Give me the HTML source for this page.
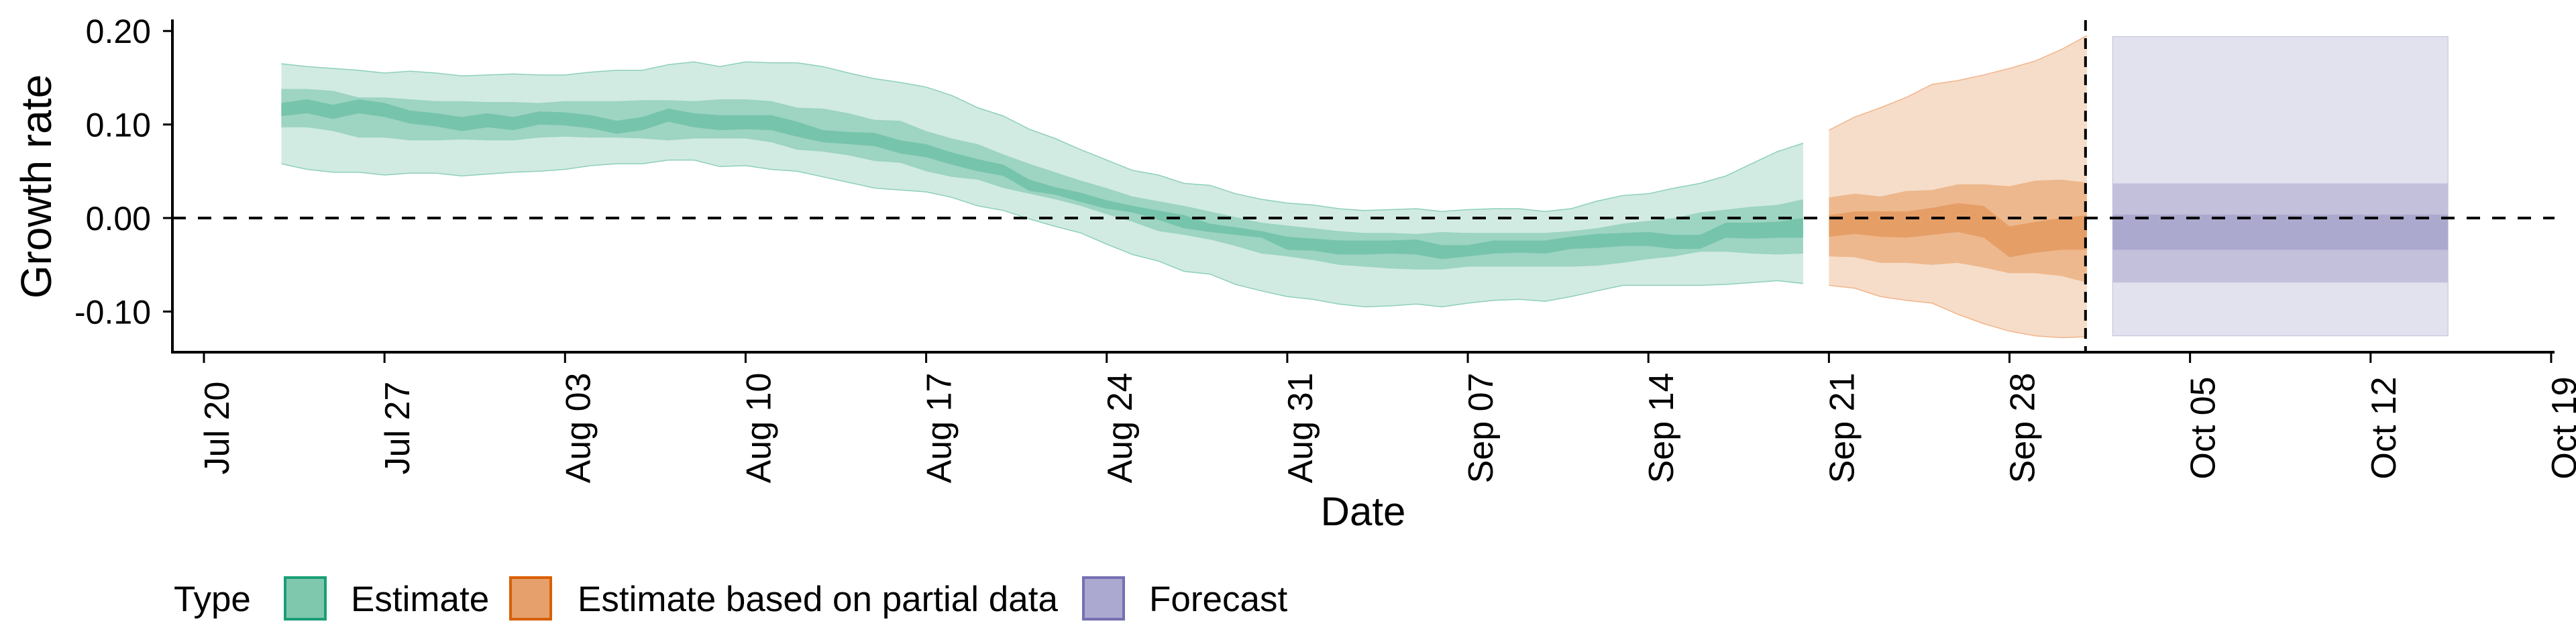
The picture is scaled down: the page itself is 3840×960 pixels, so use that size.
<!DOCTYPE html>
<html><head><meta charset="utf-8">
<style>
html,body{margin:0;padding:0;background:#fff;}
svg{display:block;font-family:"Liberation Sans",Arial,sans-serif;}
</style></head>
<body>
<svg id="chart" width="3840" height="960" viewBox="0 0 3840 960" xmlns="http://www.w3.org/2000/svg">
  <rect x="0" y="0" width="3840" height="960" fill="#fff"/>
  <g id="bands"></g>
  <g id="axes"></g>
  <g id="legend">
    <text x="259" y="911" font-size="53">Type</text>
    <rect x="425" y="861" width="60" height="62" fill="#7FC8AE" stroke="#1B9E77" stroke-width="4"/>
    <text x="523" y="911" font-size="53">Estimate</text>
    <rect x="761" y="861" width="60" height="62" fill="#E6A06B" stroke="#D95F02" stroke-width="4"/>
    <text x="861" y="911" font-size="53">Estimate based on partial data</text>
    <rect x="1615" y="861" width="60" height="62" fill="#ABA9CF" stroke="#7570B3" stroke-width="4"/>
    <text x="1713" y="911" font-size="53">Forecast</text>
  </g>
</svg>
<script>
// ---- data (days offset from Jul 20) ----
const estStart = 3;
const estOuterHi = [.165,.162,.160,.158,.155,.157,.155,.152,.153,.154,.153,.153,.156,.158,.158,.164,.167,.162,
 .167,.166,.166,.162,.155,.149,.145,.140,.131,.118,.109,.095,.085,.073,.062,.051,.046,.037,.035,.026,
 .020,.016,.014,.010,.008,.009,.010,.007,.009,.010,.010,.007,.010,.018,.024,.026,.032,.037,.045,.058,.071,.080];
const estOuterLo = [.058,.052,.049,.049,.046,.048,.048,.045,.047,.049,.050,.052,.056,.058,.058,.062,.062,.055,
 .056,.052,.050,.044,.038,.032,.030,.028,.022,.013,.008,-.001,-.009,-.016,-.028,-.039,-.046,-.057,-.060,-.071,
 -.078,-.084,-.087,-.092,-.095,-.094,-.092,-.095,-.091,-.088,-.087,-.089,-.084,-.078,-.072,-.072,-.072,-.072,-.071,-.069,-.067,-.070];
const estMidHi = [.138,.138,.136,.129,.129,.127,.125,.125,.124,.124,.123,.125,.125,.125,.126,.126,.125,.127,
 .127,.125,.118,.117,.112,.105,.104,.093,.085,.079,.068,.058,.049,.040,.032,.023,.018,.013,.007,.001,
 -.005,-.008,-.011,-.014,-.016,-.016,-.017,-.015,-.016,-.016,-.016,-.016,-.014,-.011,-.006,-.003,0,.006,.009,.012,.014,.020];
const estMidLo = [.097,.097,.093,.086,.086,.083,.083,.084,.083,.083,.086,.087,.086,.086,.085,.083,.085,.085,
 .085,.081,.073,.071,.067,.061,.059,.050,.044,.041,.032,.026,.020,.013,.004,-.004,-.014,-.018,-.023,-.030,
 -.038,-.041,-.045,-.050,-.052,-.054,-.055,-.055,-.052,-.052,-.052,-.052,-.052,-.051,-.048,-.044,-.041,-.036,-.036,-.038,-.039,-.038];
const estInHi = [.123,.127,.121,.127,.123,.115,.112,.108,.112,.108,.114,.113,.110,.104,.108,.117,.112,.110,
 .110,.110,.103,.094,.092,.091,.083,.079,.070,.063,.057,.041,.033,.027,.019,.013,.008,.003,-.006,-.010,
 -.014,-.020,-.022,-.024,-.024,-.024,-.023,-.029,-.029,-.024,-.024,-.024,-.020,-.017,-.016,-.015,-.018,-.018,-.005,-.005,-.004,0];
const estInLo = [.109,.112,.106,.112,.108,.101,.098,.093,.097,.094,.100,.099,.096,.090,.094,.103,.097,.094,
 .095,.094,.087,.081,.079,.077,.069,.065,.057,.050,.045,.029,.025,.017,.010,.006,-.002,-.011,-.015,-.018,
 -.021,-.034,-.035,-.039,-.039,-.038,-.039,-.044,-.041,-.038,-.037,-.038,-.033,-.032,-.030,-.030,-.033,-.033,-.021,-.022,-.021,-.021];

const parStart = 63;
const parOuterHi = [.094,.108,.118,.129,.143,.147,.153,.160,.168,.180,.195];
const parOuterLo = [-.072,-.075,-.084,-.088,-.091,-.103,-.113,-.121,-.126,-.128,-.127];
const parMidHi = [.022,.026,.023,.029,.030,.036,.036,.034,.040,.041,.038];
const parMidLo = [-.041,-.042,-.048,-.048,-.050,-.048,-.053,-.059,-.059,-.062,-.069];
const parInHi = [.003,.007,.007,.007,.011,.016,.013,-.009,-.004,0,.003];
const parInLo = [-.020,-.017,-.020,-.021,-.018,-.015,-.021,-.042,-.037,-.034,-.034];

const fcDays = [74, 87];
const fcOuter = [-.126, .194];
const fcMid = [-.069, .037];
const fcInner = [-.034, .0036];

const vlineDay = 73;
const xTickDays = [0,7,14,21,28,35,42,49,56,63,70,77,84,91];
const xTickLabels = ["Jul 20","Jul 27","Aug 03","Aug 10","Aug 17","Aug 24","Aug 31","Sep 07","Sep 14","Sep 21","Sep 28","Oct 05","Oct 12","Oct 19"];
const yTicks = [-0.1, 0, 0.1, 0.2];
const yTickLabels = ["-0.10","0.00","0.10","0.20"];

// ---- scales ----
const X0 = 304, XPD = 38.45;
const Y0 = 325, YPU = 1394;
const xs = d => X0 + XPD * d;
const ys = v => Y0 - YPU * v;
const NS = "http://www.w3.org/2000/svg";
const bands = document.getElementById('bands');
const axes = document.getElementById('axes');

function mk(tag, attrs, parent) {
  const e = document.createElementNS(NS, tag);
  for (const k in attrs) e.setAttribute(k, attrs[k]);
  parent.appendChild(e);
  return e;
}
function ribbon(start, hi, lo, fill, name, edge) {
  let pts = [];
  for (let i = 0; i < hi.length; i++) pts.push(xs(start + i).toFixed(1) + ',' + ys(hi[i]).toFixed(1));
  for (let i = lo.length - 1; i >= 0; i--) pts.push(xs(start + i).toFixed(1) + ',' + ys(lo[i]).toFixed(1));
  const p = mk('polygon', {points: pts.join(' '), fill: fill}, bands);
  
  
  if (edge) {
    const a = hi.map((v, i) => xs(start + i).toFixed(1) + ',' + ys(v).toFixed(1)).join(' ');
    const b = lo.map((v, i) => xs(start + i).toFixed(1) + ',' + ys(v).toFixed(1)).join(' ');
    const l1 = mk('polyline', {points: a, fill: 'none', stroke: edge, 'stroke-width': 1.5}, bands);
    
    
    const l2 = mk('polyline', {points: b, fill: 'none', stroke: edge, 'stroke-width': 1.5}, bands);
    
    
  }
}
ribbon(estStart, estOuterHi, estOuterLo, '#D1EBE2', 'estimate-90-band', '#8ED0B8');
ribbon(estStart, estMidHi, estMidLo, '#9DD4C2', 'estimate-50-band');
ribbon(estStart, estInHi, estInLo, '#76C4AB', 'estimate-20-band');
ribbon(parStart, parOuterHi, parOuterLo, '#F6DDC9', 'partial-90-band', '#F2B48A');
ribbon(parStart, parMidHi, parMidLo, '#EDB88D', 'partial-50-band');
ribbon(parStart, parInHi, parInLo, '#E69E67', 'partial-20-band');

function fcRect(range, fill, name, edge) {
  const r = mk('rect', {x: xs(fcDays[0]), y: ys(range[1]), width: xs(fcDays[1]) - xs(fcDays[0]),
    height: ys(range[0]) - ys(range[1]), fill: fill}, bands);
  if (edge) { r.setAttribute('stroke', edge); r.setAttribute('stroke-width', 1); }
  
  
}
fcRect(fcOuter, '#E2E2EE', 'forecast-90-band', '#C0BEDC');
fcRect(fcMid, '#C3C0DC', 'forecast-50-band');
fcRect(fcInner, '#ACA9CE', 'forecast-20-band');

// reference lines
const zl = mk('line', {x1: 257, x2: 3808, y1: ys(0), y2: ys(0), stroke: '#000', 'stroke-width': 4, 'stroke-dasharray': '20 18'}, axes);


const vl = mk('line', {x1: xs(vlineDay) - 2, x2: xs(vlineDay) - 2, y1: 30, y2: 525, stroke: '#000', 'stroke-width': 4, 'stroke-dasharray': '16 11'}, axes);



// axes lines
const ya = mk('line', {x1: 257, x2: 257, y1: 29, y2: 527, stroke: '#000', 'stroke-width': 4}, axes);


const xa = mk('line', {x1: 255, x2: 3808, y1: 525, y2: 525, stroke: '#000', 'stroke-width': 4}, axes);



yTicks.forEach((v, i) => {
  const t = mk('line', {x1: 243, x2: 257, y1: ys(v), y2: ys(v), stroke: '#000', 'stroke-width': 3}, axes);
  
  
  const l = mk('text', {x: 225, y: ys(v) + 18, 'font-size': 50, 'text-anchor': 'end'}, axes);
  l.textContent = yTickLabels[i];
  
  
});
xTickDays.forEach((d, i) => {
  const x = xs(d);
  const t = mk('line', {x1: x, x2: x, y1: 527, y2: 541, stroke: '#000', 'stroke-width': 3}, axes);
  
  
  const l = mk('text', {x: 0, y: 0, 'font-size': 52, 'text-anchor': 'middle',
    transform: 'translate(' + (x + 37) + ',638) rotate(-90)'}, axes);
  l.textContent = xTickLabels[i];
  
  
});

const yt = mk('text', {x: 0, y: 0, 'font-size': 64, 'text-anchor': 'middle', transform: 'translate(76,278) rotate(-90)'}, axes);
yt.textContent = 'Growth rate';


const xt = mk('text', {x: 2032, y: 783, 'font-size': 60, 'text-anchor': 'middle'}, axes);
xt.textContent = 'Date';


</script>
</body></html>
